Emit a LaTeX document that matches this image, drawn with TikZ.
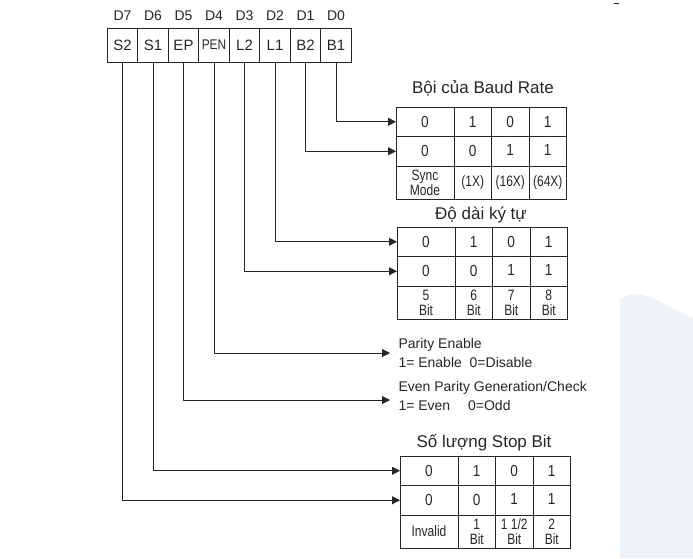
\documentclass[tikz,border=0pt]{standalone}
\usepackage{fontspec}
\setmainfont{Liberation Sans}
\newfontfamily\condensed{Liberation Sans}[FakeStretch=0.85]
\newfontfamily\narrowed{Liberation Sans}[FakeStretch=0.8]
\usetikzlibrary{arrows.meta}
\usetikzlibrary{positioning}
\definecolor{haze}{RGB}{237,243,247}

\begin{document}
\begin{tikzpicture}[x=1pt,y=-1pt,
    line width=1pt, color=black!85,
    bit/.style={draw, outer sep=0pt, inner sep=0pt, minimum width=30.5pt,
        minimum height=34pt, font=\fontsize{15}{17}\selectfont},
    cell/.style={draw, outer sep=0pt, inner sep=0pt, minimum width=37.5pt,
        minimum height=29.5pt, font=\condensed\fontsize{16}{18}\selectfont},
    wide/.style={minimum width=58pt},
    low/.style={minimum height=33pt, font=\narrowed\fontsize{15}{15}\selectfont, align=center},
    title/.style={font=\fontsize{17}{19}\selectfont},
    note/.style={font=\fontsize{14}{19}\selectfont, align=left, anchor=west, inner sep=0pt},
    arr/.style={-{Triangle[length=8pt,width=8pt]}}]
    \useasboundingbox (0,0) rectangle (693,558);

    % faint backdrop, bottom right
    \fill[haze] (620,300) .. controls (640,282) and (670,310) .. (693,318)
        -- (693,558) -- (620,558) -- cycle;
    \draw[line width=0.8pt] (614,3) -- (619,3);

    % register
    \node[bit] (s2) at (122.5,45) {S2};
    \node[bit, right=0pt of s2] (s1) {S1};
    \node[bit, right=0pt of s1] (ep) {EP};
    \node[bit, right=0pt of ep, font=\condensed\fontsize{14}{16}\selectfont] (pen) {PEN};
    \node[bit, right=0pt of pen] (l2) {L2};
    \node[bit, right=0pt of l2] (l1) {L1};
    \node[bit, right=0pt of l1] (b2) {B2};
    \node[bit, right=0pt of b2] (b1) {B1};
    \foreach \n/\d in {s2/7,s1/6,ep/5,pen/4,l2/3,l1/2,b2/1,b1/0}
        \node[font=\fontsize{14}{16}\selectfont, inner sep=0pt, above=7pt of \n] (d\d) {D\d};

    % the three tables
    \foreach \tab/\tx/\ty/\ca/\cb/\cc/\cd in {
        baud/396/107/{Sync\\Mode}/(1X)/(16X)/(64X),
        len/397/227/{5\\Bit}/{6\\Bit}/{7\\Bit}/{8\\Bit},
        stop/400/456/Invalid/{1\\Bit}/{1 1/2\\Bit}/{2\\Bit}} {
        \node[cell, wide, anchor=north west] (\tab-11) at (\tx,\ty) {0};
        \node[cell, right=0pt of \tab-11] (\tab-12) {1};
        \node[cell, right=0pt of \tab-12] (\tab-13) {0};
        \node[cell, right=0pt of \tab-13] (\tab-14) {1};
        \node[cell, wide, below=0pt of \tab-11] (\tab-21) {0};
        \node[cell, right=0pt of \tab-21] (\tab-22) {\raisebox{-2pt}{0}};
        \node[cell, right=0pt of \tab-22] (\tab-23) {\raisebox{2pt}{1}};
        \node[cell, right=0pt of \tab-23] (\tab-24) {\raisebox{2pt}{1}};
        \node[cell, wide, low, below=0pt of \tab-21] (\tab-31) {\ca};
        \node[cell, low, right=0pt of \tab-31] (\tab-32) {\cb};
        \node[cell, low, right=0pt of \tab-32] (\tab-33) {\cc};
        \node[cell, low, right=0pt of \tab-33] (\tab-34) {\cd};
    }
    \node[title] (baud-title) at (483,88) {Bội của Baud Rate};
    \node[title] (len-title) at (481,215) {Độ dài ký tự};
    \node[title] (stop-title) at (484,443) {Số lượng Stop Bit};

    % parity notes
    \coordinate (pen-end) at (390,353);
    \coordinate (ep-end) at (390,400);
    \node[note, right=8pt of pen-end] (parity) {Parity Enable\\1= Enable\ \ 0=Disable};
    \node[note, right=8pt of ep-end, yshift=4pt] (even) {Even Parity Generation/Check\\1= Even\quad\ 0=Odd};

    % connectors
    \draw[arr] (b1.south) |- (baud-11.west);
    \draw[arr] (b2.south) |- (baud-21.west);
    \draw[arr] (l1.south) |- (len-11.west);
    \draw[arr] (l2.south) |- (len-21.west);
    \draw[arr] (pen.south) |- (pen-end);
    \draw[arr] (ep.south) |- (ep-end);
    \draw[arr] (s1.south) |- (stop-11.west);
    \draw[arr] (s2.south) |- (stop-21.west);
\end{tikzpicture}
\end{document}
